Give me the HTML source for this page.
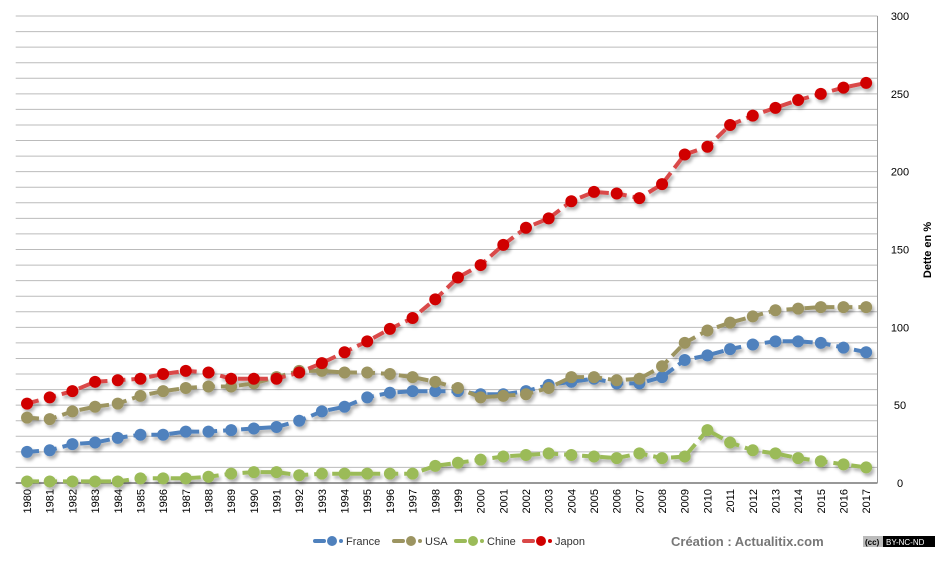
<!DOCTYPE html>
<html><head><meta charset="utf-8"><style>body{margin:0;background:#fff}svg{display:block;font-family:"Liberation Sans",sans-serif}</style></head><body>
<svg id="s" width="948" height="561" xmlns="http://www.w3.org/2000/svg">
<defs><filter id="sh" x="-20%" y="-20%" width="140%" height="140%"><feDropShadow dx="2" dy="3" stdDeviation="1.5" flood-color="#000" flood-opacity="0.3"/></filter></defs>
<g id="grid"></g>
<g id="series" filter="url(#sh)"></g>
<text x="931" y="250" transform="rotate(-90 931 250)" text-anchor="middle" font-size="11" font-weight="bold">Dette en %</text>
<g font-size="11" fill="#333">
<g transform="translate(335,541)"><line x1="-20" y1="0" x2="-11" y2="0" stroke="#4f81bd" stroke-width="4" stroke-linecap="round"/><circle cx="-3" cy="0" r="5" fill="#4f81bd"/><circle cx="6" cy="0" r="2" fill="#4f81bd"/><text x="11" y="4">France</text></g>
<g transform="translate(414,541)"><line x1="-20" y1="0" x2="-11" y2="0" stroke="#9c9461" stroke-width="4" stroke-linecap="round"/><circle cx="-3" cy="0" r="5" fill="#9c9461"/><circle cx="6" cy="0" r="2" fill="#9c9461"/><text x="11" y="4">USA</text></g>
<g transform="translate(476,541)"><line x1="-20" y1="0" x2="-11" y2="0" stroke="#9bbb59" stroke-width="4" stroke-linecap="round"/><circle cx="-3" cy="0" r="5" fill="#9bbb59"/><circle cx="6" cy="0" r="2" fill="#9bbb59"/><text x="11" y="4">Chine</text></g>
<g transform="translate(544,541)"><line x1="-20" y1="0" x2="-11" y2="0" stroke="#d94848" stroke-width="4" stroke-linecap="round"/><circle cx="-3" cy="0" r="5" fill="#d00000"/><circle cx="6" cy="0" r="2" fill="#d00000"/><text x="11" y="4">Japon</text></g>
<text x="671" y="546" font-size="13" font-weight="bold" fill="#777">Création : Actualitix.com</text>
<rect x="863" y="536" width="20" height="11" fill="#bbb"/><text x="865" y="545" font-size="8" font-weight="bold" fill="#000">(cc)</text>
<rect x="883" y="536" width="52" height="11" fill="#000"/><text x="886" y="545" font-size="8" fill="#fff">BY-NC-ND</text>
</g>
</svg>
<script>
var ns="http://www.w3.org/2000/svg",s=document.getElementById("s"),g=document.getElementById("grid"),se=document.getElementById("series");
function el(t,a,p){var e=document.createElementNS(ns,t);for(var k in a)e.setAttribute(k,a[k]);(p||g).appendChild(e);return e}
var L=15.7,R=877.5,T=16,B=483,k=(B-T)/300,dx=(R-L)/38;
function Y(v){return B-v*k}
for(var v=10;v<=300;v+=10)el("line",{x1:L,x2:R,y1:Y(v),y2:Y(v),stroke:"#bbb","stroke-width":1});
el("line",{x1:L,x2:R,y1:B,y2:B,stroke:"#777","stroke-width":1.5});
el("line",{x1:R,x2:R,y1:T,y2:B,stroke:"#999","stroke-width":1});
for(v=0;v<=300;v+=50){var t=el("text",{x:900,y:Y(v)+4,"font-size":11,"text-anchor":"middle"});t.textContent=v}
for(var i=0;i<38;i++){var x=L+dx*(i+.5);var t=el("text",{x:x+4,y:489,"font-size":11,"text-anchor":"end",transform:"rotate(-90 "+(x+4)+" 489)"});t.textContent=1980+i}
var D=[
["#9bbb59","#9bbb59",[1,1,1,1,1,3,3,3,4,6,7,7,5,6,6,6,6,6,11,13,15,17,18,19,18,17,16,19,16,17,34,26,21,19,16,14,12,10]],
["#4f81bd","#4f81bd",[20,21,25,26,29,31,31,33,33,34,35,36,40,46,49,55,58,59,59,59,57,57,59,63,65,67,64,64,68,79,82,86,89,91,91,90,87,84]],
["#9c9461","#9c9461",[42,41,46,49,51,56,59,61,62,62,64,68,72,72,71,71,70,68,65,61,55,56,57,61,68,68,66,67,75,90,98,103,107,111,112,113,113,113]],
["#d94848","#d00000",[51,55,59,65,66,67,70,72,71,67,67,67,71,77,84,91,99,106,118,132,140,153,164,170,181,187,186,183,192,211,216,230,236,241,246,250,254,257]]];
D.forEach(function(d){var p=d[2].map(function(v,i){return (L+dx*(i+.5)).toFixed(1)+","+Y(v).toFixed(1)}).join(" ");
el("polyline",{points:p,fill:"none",stroke:d[0],"stroke-width":4,"stroke-dasharray":"12 6"},se);
d[2].forEach(function(v,i){el("circle",{cx:L+dx*(i+.5),cy:Y(v),r:6,fill:d[1]},se)})});
</script>
</body></html>
